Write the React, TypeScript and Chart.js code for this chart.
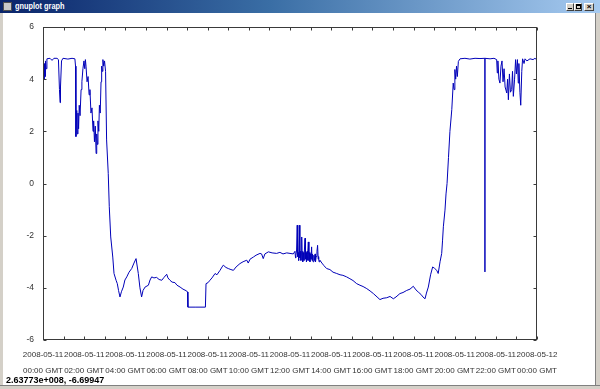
import React, { useEffect, useRef } from "react";
import { Chart, registerables } from "chart.js";

Chart.register(...registerables);

// ---- data (hours after 2008-05-11 00:00 GMT, signal value) ----
const hours: number[] = [
  0, 0.02, 0.05, 0.07, 0.1, 0.12, 0.15, 0.19, 0.34, 0.44, 0.53, 0.68, 0.75, 0.8, 0.83, 0.85, 0.9, 0.97,
  1.21, 1.41, 1.55, 1.58, 1.6, 1.64, 1.67, 1.7, 1.73, 1.76, 1.8, 1.85, 1.89, 1.94, 1.99, 2.03, 2.06,
  2.09, 2.14, 2.19, 2.24, 2.28, 2.33, 2.38, 2.43, 2.46, 2.5, 2.54, 2.58, 2.61, 2.64, 2.67, 2.71, 2.74,
  2.78, 2.82, 2.85, 2.88, 2.91, 2.95, 2.99, 3.04, 3.09, 3.17, 3.22, 3.29, 3.39, 3.45, 3.55, 3.61, 3.67,
  3.74, 3.81, 3.9, 3.98, 4.07, 4.18, 4.31, 4.42, 4.52, 4.63, 4.71, 4.79, 4.86, 4.96, 5.12, 5.2, 5.28,
  5.39, 5.52, 5.64, 5.77, 5.88, 6.01, 6.07, 6.17, 6.27, 6.41, 6.51, 6.66, 6.8, 6.98, 7.02, 7.04, 7.43,
  7.89, 7.92, 8.02, 8.11, 8.21, 8.36, 8.45, 8.6, 8.7, 8.76, 8.89, 9.0, 9.13, 9.25, 9.38, 9.57, 9.72,
  9.9, 9.97, 10.06, 10.22, 10.35, 10.54, 10.62, 10.7, 10.78, 10.95, 11.13, 11.35, 11.51, 11.66, 11.84,
  12.0, 12.16,
  12.24, 12.27, 12.29, 12.32, 12.35, 12.37, 12.4, 12.42, 12.45, 12.48, 12.5, 12.53, 12.55, 12.57, 12.59, 12.61,
  12.63, 12.65, 12.68, 12.7, 12.73, 12.75, 12.78, 12.8, 12.83, 12.85, 12.87, 12.89, 12.92, 12.94, 12.97, 12.99,
  13.02, 13.05, 13.07, 13.09, 13.12, 13.16, 13.19, 13.22, 13.24, 13.27, 13.31, 13.34, 13.37, 13.39, 13.41, 13.45,
  13.55, 13.65,
  13.78, 13.94, 14.09, 14.27, 14.43, 14.57, 14.75, 14.91, 15.06, 15.24, 15.4, 15.55, 15.73, 15.89,
  16.05, 16.23, 16.37, 16.52, 16.7, 16.86, 17.02, 17.15, 17.34, 17.49, 17.67, 17.83, 17.99, 18.12,
  18.23, 18.36, 18.46, 18.56, 18.63, 18.72, 18.83, 18.93, 19.02, 19.13, 19.2, 19.29, 19.37, 19.41,
  19.45, 19.53, 19.58, 19.63, 19.7, 19.77, 19.86, 19.93, 19.97, 20.01, 20.05, 20.09, 20.13, 20.18,
  20.26, 20.5, 20.74, 20.99, 21.23, 21.47, 21.47, 21.47, 21.72, 21.91, 22.04, 22.07, 22.1, 22.15,
  22.2, 22.25, 22.3, 22.35, 22.4, 22.45, 22.53, 22.57, 22.61, 22.66, 22.71, 22.77, 22.81, 22.85,
  22.91, 22.96, 23.0, 23.05, 23.09, 23.12, 23.17, 23.21, 23.26, 23.3, 23.37, 23.42, 23.51, 23.66,
  23.81, 23.9, 23.98,
];

const signal: number[] = [
  4.3, 4.7, 4.0, 4.6, 4.1, 4.7, 4.4, 4.78, 4.8, 4.72, 4.8, 4.8, 4.75, 3.6, 3.1, 3.7, 4.7, 4.8,
  4.77, 4.8, 4.78, 4.5, 1.8, 2.8, 1.9, 2.7, 2.1, 3.0, 2.6, 3.6, 3.9, 4.4, 4.7, 4.4, 4.75,
  4.5, 3.9, 4.1, 3.4, 3.6, 2.7, 2.9, 2.0, 2.4, 1.6, 2.2, 1.15, 1.9, 1.5, 2.4, 2.0, 3.0,
  2.7, 3.9, 4.5, 4.3, 4.75, 4.5, 4.7, 4.3, 1.67, 0.39, -0.89, -2.05, -2.82, -3.45, -3.71, -3.84, -4.1,
  -4.35, -4.15, -3.97, -3.7, -3.58, -3.4, -3.26, -3.05, -2.88, -3.45, -4.0, -4.35, -4.1, -3.97, -3.9, -3.7, -3.58,
  -3.62, -3.6, -3.68, -3.71, -3.6, -3.48, -3.62, -3.71, -3.78, -3.8, -3.9, -3.97, -4.05, -4.12, -4.16, -4.74, -4.74,
  -4.74, -3.84, -3.8, -3.71, -3.62, -3.45, -3.5, -3.33, -3.2, -3.13, -3.22, -3.26, -3.3, -3.33, -3.2, -3.07, -3.0,
  -2.94, -3.05, -2.9, -2.82, -2.75, -2.68, -2.7, -2.88, -2.7, -2.62, -2.66, -2.68, -2.64, -2.7, -2.66,
  -2.68, -2.7,
  -2.6, -2.85, -2.75, -2.55, -1.6, -2.8, -2.65, -2.95, -1.6, -2.85, -2.6, -2.95, -2.7, -2.05, -2.9, -2.6,
  -3.0, -2.65, -2.95, -2.55, -2.1, -2.9, -2.65, -3.0, -2.6, -2.95, -2.7, -2.24, -2.95, -2.65, -3.0, -2.7,
  -2.9, -2.43, -2.95, -2.7, -3.0, -2.75, -2.95, -2.7, -3.0, -2.8, -2.6, -2.37, -2.9, -2.8, -3.0, -2.94,
  -3.05, -3.15,
  -3.26, -3.3, -3.4, -3.45, -3.5, -3.52, -3.58, -3.65, -3.72, -3.84, -3.9, -3.95, -4.03, -4.12,
  -4.22, -4.35, -4.45, -4.4, -4.38, -4.33, -4.42, -4.35, -4.22, -4.18, -4.1, -4.05, -3.94, -4.08,
  -4.16, -4.25, -4.35, -4.42, -4.2, -3.97, -3.5, -3.2, -3.25, -3.33, -3.45, -3.0, -2.68, -2.2,
  -1.66, -1.02, -0.4, 0.0, 1.0, 2.0, 2.83, 3.85, 3.6, 4.37, 4.0, 4.5, 4.1, 4.68,
  4.78, 4.8, 4.77, 4.8, 4.79, 4.8, -3.39, 4.8, 4.78, 4.8, 4.75, 4.24, 4.7, 4.0,
  3.85, 4.5, 4.7, 3.9, 4.4, 3.7, 3.47, 4.0, 3.21, 4.2, 3.5, 3.6, 4.3, 3.34,
  4.0, 4.75, 4.2, 4.75, 3.85, 4.6, 3.5, 3.0, 4.3, 4.78, 4.6, 4.78, 4.7, 4.78,
  4.75, 4.8, 4.75,
];

// ---- axis labels ----
const xTickDates: string[] = [
  "2008-05-11", "2008-05-11", "2008-05-11", "2008-05-11", "2008-05-11", "2008-05-11", "2008-05-11",
  "2008-05-11", "2008-05-11", "2008-05-11", "2008-05-11", "2008-05-11", "2008-05-12",
];
const xTickTimes: string[] = [
  "00:00 GMT", "02:00 GMT", "04:00 GMT", "06:00 GMT", "08:00 GMT", "10:00 GMT", "12:00 GMT",
  "14:00 GMT", "16:00 GMT", "18:00 GMT", "20:00 GMT", "22:00 GMT", "00:00 GMT",
];
const windowTitle = "gnuplot graph";
const statusText = "2.63773e+008, -6.69947";

const TICK_FONT = '"Liberation Sans", Arial, sans-serif';

const framePlugin = {
  id: "gnuplotFrame",
  afterDatasetsDraw(chart: any) {
    const { ctx, chartArea: a, scales } = chart;
    const xs = scales.x;
    const ys = scales.y;
    const L = Math.round(a.left) + 0.5;
    const R = Math.round(a.right) - 0.5;
    const T = Math.round(a.top) + 0.5;
    const B = Math.round(a.bottom) - 0.5;
    ctx.save();
    ctx.strokeStyle = "#3a3a3a";
    ctx.lineWidth = 1;
    ctx.strokeRect(L, T, R - L, B - T);
    ctx.beginPath();
    xs.ticks.forEach((t: any) => {
      const px = Math.round(xs.getPixelForValue(t.value)) + 0.5;
      ctx.moveTo(px, B);
      ctx.lineTo(px, B - 3);
      ctx.moveTo(px, T);
      ctx.lineTo(px, T + 3);
    });
    ys.ticks.forEach((t: any) => {
      const py = Math.round(ys.getPixelForValue(t.value)) + 0.5;
      ctx.moveTo(L, py);
      ctx.lineTo(L + 3, py);
      ctx.moveTo(R, py);
      ctx.lineTo(R - 3, py);
    });
    ctx.stroke();
    ctx.restore();
  },
};

function GnuplotChart() {
  const ref = useRef<HTMLCanvasElement | null>(null);
  useEffect(() => {
    if (!ref.current) return;
    const points = hours.map((h, i) => ({ x: h, y: signal[i] }));
    const chart = new Chart(ref.current, {
      type: "line",
      data: {
        datasets: [
          {
            data: points,
            borderColor: "#0000b8",
            borderWidth: 1,
            pointRadius: 0,
            tension: 0,
            fill: false,
          },
        ],
      },
      options: {
        animation: false,
        responsive: false,
        events: [],
        layout: { padding: { left: 0, right: 63, top: 27, bottom: 9 } },
        plugins: { legend: { display: false }, tooltip: { enabled: false } },
        scales: {
          x: {
            type: "linear",
            min: 0,
            max: 24,
            grid: { display: false, drawTicks: false },
            border: { display: false },
            afterFit: (s: any) => {
              s.height = 40;
            },
            ticks: {
              stepSize: 1,
              autoSkip: false,
              maxRotation: 0,
              minRotation: 0,
              padding: 7,
              color: "#333",
              font: { family: TICK_FONT, size: 8, lineHeight: 1.95 },
              callback: (v: any) => {
                const n = Number(v);
                if (n % 2 !== 0) return "";
                return [xTickDates[n / 2], xTickTimes[n / 2]];
              },
            },
          },
          y: {
            type: "linear",
            min: -6,
            max: 6,
            grid: { display: false, drawTicks: false },
            border: { display: false },
            afterFit: (s: any) => {
              s.width = 43;
            },
            ticks: {
              stepSize: 2,
              padding: 9,
              color: "#333",
              font: { family: TICK_FONT, size: 8.5 },
            },
          },
        },
      },
      plugins: [framePlugin],
    });
    return () => chart.destroy();
  }, []);
  return (
    <canvas
      ref={ref}
      width={600}
      height={389}
      style={{ position: "absolute", left: 0, top: 0, width: 600, height: 389 }}
    />
  );
}

const btnBase: React.CSSProperties = {
  position: "absolute",
  top: 3,
  height: 8,
  background: "#d4d0c8",
  borderTop: "1px solid #ffffff",
  borderLeft: "1px solid #ffffff",
  borderBottom: "1px solid #404040",
  borderRight: "1px solid #404040",
  boxSizing: "border-box",
};

export default function App() {
  useEffect(() => {
    document.body.style.margin = "0";
  }, []);
  return (
    <div
      style={{
        position: "relative",
        width: 600,
        height: 389,
        background: "#ffffff",
        overflow: "hidden",
        fontFamily: '"Liberation Sans", Arial, sans-serif',
      }}
    >
      <GnuplotChart />
      {/* title bar */}
      <div
        style={{
          position: "absolute",
          left: 0,
          top: 0,
          width: 600,
          height: 13,
          background: "linear-gradient(to right, #0a246a 0%, #3a6ea5 45%, #a6caf0 100%)",
        }}
      />
      <div
        style={{
          position: "absolute",
          left: 3,
          top: 2,
          width: 9,
          height: 9,
          background: "#c8c8c8",
          border: "1px solid #505050",
          boxSizing: "border-box",
        }}
      />
      <div
        style={{
          position: "absolute",
          left: 15,
          top: 1,
          height: 11,
          lineHeight: "11px",
          fontSize: 9,
          fontWeight: "bold",
          color: "#ffffff",
          whiteSpace: "nowrap",
          transform: "scaleX(0.82)",
          transformOrigin: "left center",
        }}
      >
        {windowTitle}
      </div>
      <div style={{ ...btnBase, left: 566, width: 8 }}>
        <div style={{ position: "absolute", left: 1, top: 4, width: 4, height: 1, background: "#000" }} />
      </div>
      <div style={{ ...btnBase, left: 574, width: 8 }}>
        <div
          style={{
            position: "absolute",
            left: 1,
            top: 0,
            width: 5,
            height: 5,
            border: "1px solid #000",
            borderTopWidth: 2,
            boxSizing: "border-box",
          }}
        />
      </div>
      <div style={{ ...btnBase, left: 584, width: 10 }}>
        <div
          style={{
            position: "absolute",
            left: 0,
            top: -2,
            width: 8,
            textAlign: "center",
            fontSize: 8,
            lineHeight: "9px",
            fontWeight: "bold",
            color: "#000",
          }}
        >
          ×
        </div>
      </div>
      {/* frames */}
      <div style={{ position: "absolute", left: 0, top: 13, width: 3, height: 376, background: "#d4d0c8" }} />
      <div
        style={{
          position: "absolute",
          left: 595,
          top: 13,
          width: 5,
          height: 376,
          background: "#d4d0c8",
          borderLeft: "1px solid #808080",
          boxSizing: "border-box",
        }}
      />
      <div
        style={{
          position: "absolute",
          left: 0,
          top: 385,
          width: 600,
          height: 4,
          background: "#d4d0c8",
          borderTop: "1px solid #808080",
          boxSizing: "border-box",
        }}
      />
      {/* status line */}
      <div
        style={{
          position: "absolute",
          left: 6,
          top: 375,
          height: 11,
          lineHeight: "11px",
          fontSize: 9,
          fontWeight: "bold",
          color: "#000",
          whiteSpace: "nowrap",
        }}
      >
        {statusText}
      </div>
    </div>
  );
}
